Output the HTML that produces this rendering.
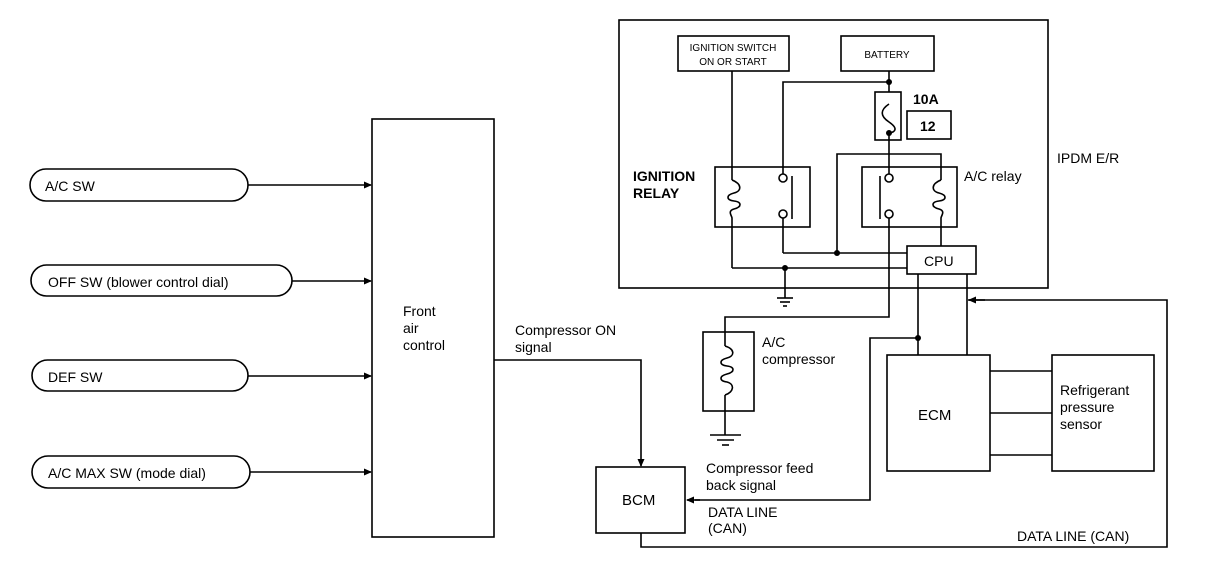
<!DOCTYPE html>
<html><head><meta charset="utf-8"><style>
html,body{margin:0;padding:0;background:#fff;}
svg{display:block;}
text{font-family:"Liberation Sans",Arial,sans-serif;fill:#000;}
</style></head><body>
<svg width="1216" height="582" viewBox="0 0 1216 582" xmlns="http://www.w3.org/2000/svg">
<defs>
<marker id="ar" markerWidth="8" markerHeight="8" refX="7" refY="4" orient="auto" markerUnits="userSpaceOnUse">
<path d="M0,0.5 L8,4 L0,7.5 Z" fill="#000"/></marker>
</defs>
<g fill="none" stroke="#000" stroke-width="1.6">
<!-- left pills -->
<rect x="30" y="169" width="218" height="32" rx="16"/>
<rect x="31" y="265" width="261" height="31" rx="15.5"/>
<rect x="32" y="360" width="216" height="31" rx="15.5"/>
<rect x="32" y="456" width="218" height="32" rx="16"/>
<line x1="248" y1="185" x2="371" y2="185" marker-end="url(#ar)"/>
<line x1="292" y1="281" x2="371" y2="281" marker-end="url(#ar)"/>
<line x1="248" y1="376" x2="371" y2="376" marker-end="url(#ar)"/>
<line x1="250" y1="472" x2="371" y2="472" marker-end="url(#ar)"/>
<!-- front air control -->
<rect x="372" y="119" width="122" height="418"/>
<polyline points="494,360 641,360 641,466" marker-end="url(#ar)"/>
<!-- BCM -->
<rect x="596" y="467" width="89" height="66"/>
<polyline points="641,533 641,547 1167,547 1167,300 968,300"/>
<line x1="985" y1="300" x2="969" y2="300" marker-end="url(#ar)"/>
<!-- IPDM -->
<rect x="619" y="20" width="429" height="268"/>
<rect x="678" y="36" width="111" height="35"/>
<rect x="841" y="36" width="93" height="35"/>
<line x1="889" y1="71" x2="889" y2="92"/>
<polyline points="889,82 783,82 783,174"/>
<rect x="875" y="92" width="26" height="48"/>
<rect x="907" y="111" width="44" height="28"/>
<path d="M889,104 C880,110 880,116 889,122 C898,128 896,132 889,133"/>
<line x1="889" y1="133" x2="889" y2="174"/>
<!-- ignition relay -->
<rect x="715" y="167" width="95" height="60"/>
<line x1="732" y1="71" x2="732" y2="180"/>
<path d="M732,180 C742,184 742,191 734,193 C726,195 726,200 734,201 C742,202 742,207 734,209 C727,211 732,216 732,218"/>
<line x1="732" y1="218" x2="732" y2="268"/>
<circle cx="783" cy="178" r="4"/>
<circle cx="783" cy="214" r="4"/>
<line x1="792" y1="176" x2="792" y2="219"/>
<line x1="783" y1="218" x2="783" y2="253"/>
<polyline points="732,268 907,268"/>
<line x1="785" y1="268" x2="785" y2="298"/>
<line x1="777" y1="298" x2="793" y2="298"/>
<line x1="780" y1="302" x2="790" y2="302"/>
<line x1="783" y1="306" x2="787" y2="306"/>
<!-- A/C relay -->
<rect x="862" y="167" width="95" height="60"/>
<circle cx="889" cy="178" r="4"/>
<circle cx="889" cy="214" r="4"/>
<line x1="880" y1="176" x2="880" y2="219"/>
<polyline points="783,253 907,253"/>
<polyline points="837,253 837,154 941,154 941,180"/>
<path d="M941,180 C931,184 931,191 939,193 C947,195 947,200 939,201 C931,202 931,207 939,209 C946,211 941,216 941,218"/>
<line x1="941" y1="218" x2="941" y2="246"/>
<polyline points="889,218 889,317 725,317 725,346"/>
<!-- CPU -->
<rect x="907" y="246" width="69" height="28"/>
<line x1="918" y1="274" x2="918" y2="355"/>
<line x1="967" y1="274" x2="967" y2="355"/>
<polyline points="918,338 870,338 870,500 695,500"/>
<line x1="700" y1="500" x2="687" y2="500" marker-end="url(#ar)"/>
<!-- compressor -->
<rect x="703" y="332" width="51" height="79"/>
<path d="M725,346 C735,349 735,356 727,358 C719,360 719,365 727,366 C735,367 735,372 727,374 C719,376 719,381 727,382 C735,384 734,392 725,395"/>
<line x1="725" y1="395" x2="725" y2="435"/>
<line x1="710" y1="435" x2="741" y2="435"/>
<line x1="717" y1="440" x2="734" y2="440"/>
<line x1="722" y1="445" x2="729" y2="445"/>
<!-- ECM and sensor -->
<rect x="887" y="355" width="103" height="116"/>
<rect x="1052" y="355" width="102" height="116"/>
<line x1="990" y1="371" x2="1052" y2="371"/>
<line x1="990" y1="413" x2="1052" y2="413"/>
<line x1="990" y1="455" x2="1052" y2="455"/>
</g>
<g fill="#000">
<circle cx="889" cy="82" r="3"/>
<circle cx="889" cy="133" r="3"/>
<circle cx="785" cy="268" r="3"/>
<circle cx="837" cy="253" r="3"/>
<circle cx="918" cy="338" r="3"/>
</g>
<g font-size="14">
<text x="45" y="191">A/C SW</text>
<text x="48" y="287">OFF SW (blower control dial)</text>
<text x="48" y="382">DEF SW</text>
<text x="48" y="478">A/C MAX SW (mode dial)</text>
<text x="403" y="316">Front</text>
<text x="403" y="333">air</text>
<text x="403" y="350">control</text>
<text x="515" y="335">Compressor ON</text>
<text x="515" y="352">signal</text>
<text x="622" y="505" font-size="15">BCM</text>
<text x="706" y="473">Compressor feed</text>
<text x="706" y="490">back signal</text>
<text x="708" y="517">DATA LINE</text>
<text x="708" y="533">(CAN)</text>
<text x="1017" y="541">DATA LINE (CAN)</text>
<text x="762" y="347">A/C</text>
<text x="762" y="364">compressor</text>
<text x="918" y="420" font-size="15">ECM</text>
<text x="1060" y="395">Refrigerant</text>
<text x="1060" y="412">pressure</text>
<text x="1060" y="429">sensor</text>
<text x="633" y="181" font-weight="bold">IGNITION</text>
<text x="633" y="198" font-weight="bold">RELAY</text>
<text x="964" y="181">A/C relay</text>
<text x="1057" y="163">IPDM E/R</text>
<text x="913" y="104" font-weight="bold">10A</text>
<text x="920" y="131" font-weight="bold">12</text>
<text x="924" y="266" font-size="14">CPU</text>
<text x="733" y="51" font-size="10" text-anchor="middle">IGNITION SWITCH</text>
<text x="733" y="65" font-size="10" text-anchor="middle">ON OR START</text>
<text x="887" y="58" font-size="10" text-anchor="middle">BATTERY</text>
</g>
</svg>
</body></html>
